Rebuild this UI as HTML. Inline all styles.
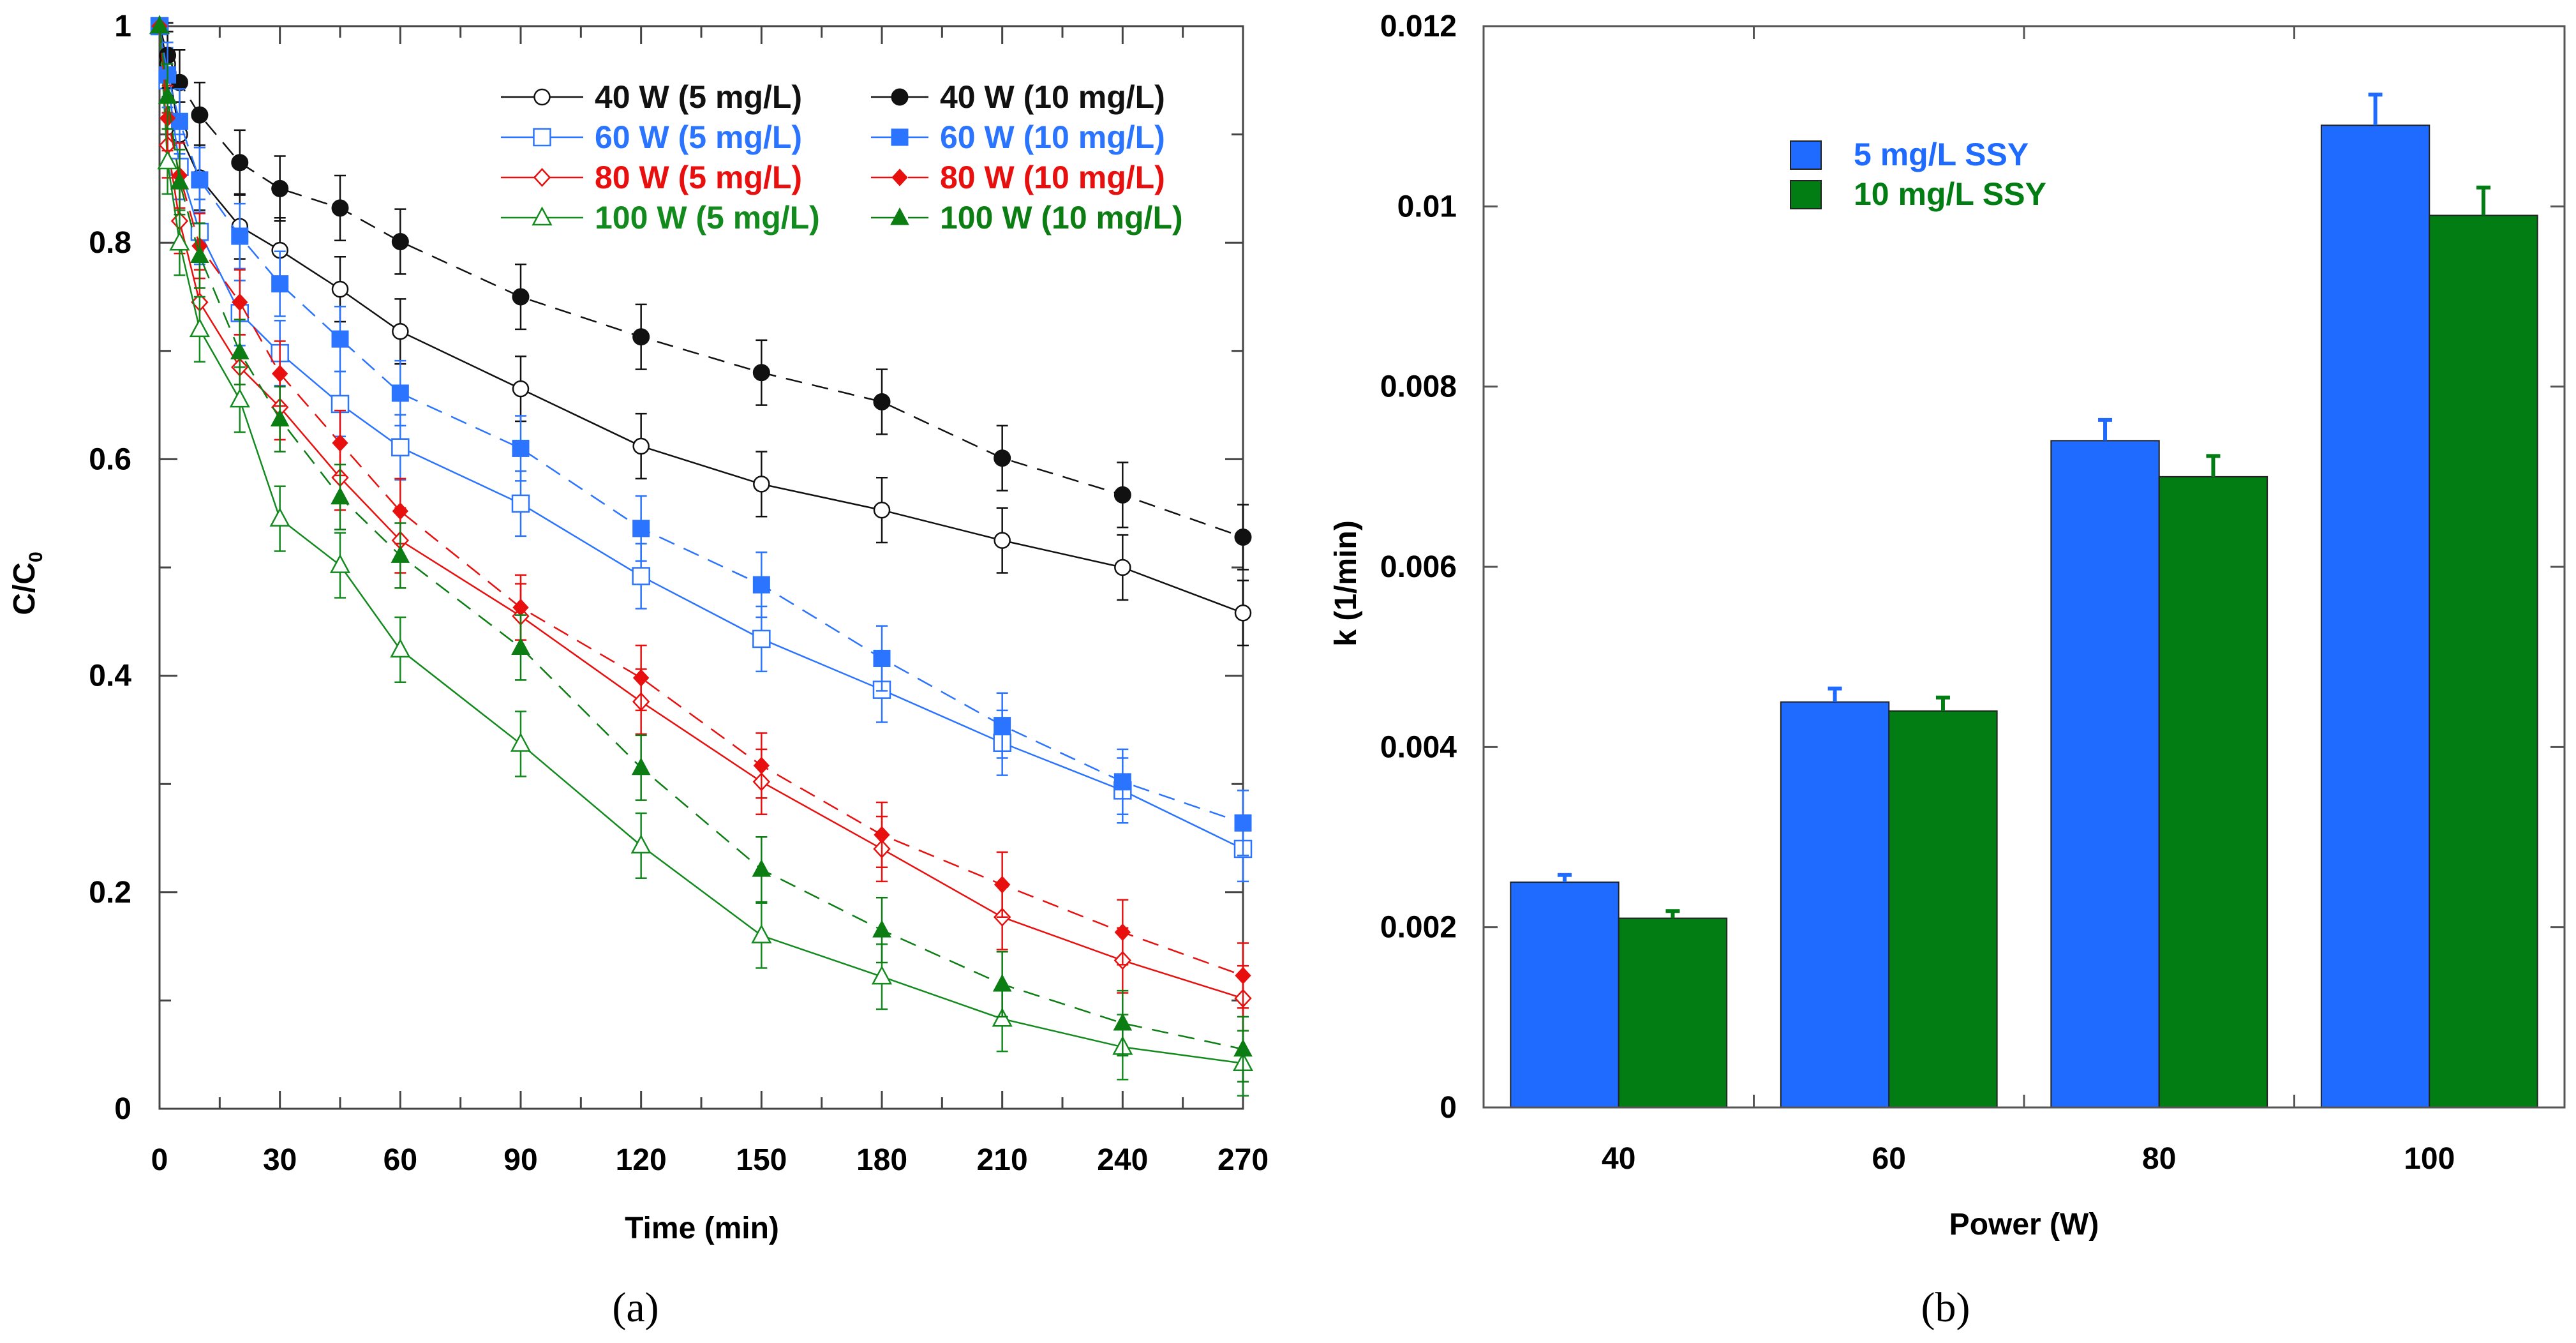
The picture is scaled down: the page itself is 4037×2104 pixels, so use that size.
<!DOCTYPE html>
<html><head><meta charset="utf-8">
<style>
html,body{margin:0;padding:0;background:#fff;}
svg{display:block;font-family:"Liberation Sans",Arial,sans-serif;}
</style></head>
<body>
<svg id="fig" width="4037" height="2104" viewBox="0 0 4037 2104" xmlns="http://www.w3.org/2000/svg">
<g id="chartA"></g>
<g id="chartB"></g>
<text x="996" y="2070" font-family="Liberation Serif,serif" font-size="66" text-anchor="middle">(a)</text>
<text x="3049" y="2070" font-family="Liberation Serif,serif" font-size="66" text-anchor="middle">(b)</text>
</svg>
<script>
const NS="http://www.w3.org/2000/svg";
// ---- Chart A data ----
const times=[0,2,5,10,20,30,45,60,90,120,150,180,210,240,270];
const s40_5=[1,0.965,0.90,0.86,0.815,0.793,0.757,0.718,0.665,0.612,0.577,0.553,0.525,0.50,0.458];
const s40_10=[1,0.973,0.948,0.918,0.874,0.85,0.832,0.801,0.75,0.713,0.68,0.653,0.601,0.567,0.528];
const s60_5=[1,0.95,0.87,0.81,0.735,0.698,0.651,0.611,0.559,0.492,0.434,0.387,0.338,0.294,0.24];
const s60_10=[1,0.955,0.912,0.858,0.806,0.762,0.711,0.661,0.61,0.536,0.484,0.416,0.354,0.302,0.264];
const s80_5=[1,0.89,0.82,0.745,0.685,0.648,0.583,0.525,0.455,0.376,0.302,0.24,0.177,0.137,0.102];
const s80_10=[1,0.915,0.862,0.797,0.745,0.679,0.615,0.552,0.463,0.398,0.317,0.253,0.207,0.163,0.123];
const s100_5=[1,0.875,0.80,0.72,0.655,0.545,0.502,0.424,0.337,0.243,0.16,0.122,0.083,0.057,0.042];
const s100_10=[1,0.935,0.856,0.788,0.699,0.637,0.565,0.511,0.426,0.315,0.221,0.165,0.115,0.079,0.055];
const errA=0.03;
const xTicksA=[0,30,60,90,120,150,180,210,240,270];
const yTicksA=[0,0.2,0.4,0.6,0.8,1];
const yTickLabelsA=["0","0.2","0.4","0.6","0.8","1"];
// ---- Chart B data ----
const powers=["40","60","80","100"];
const k5=[0.0025,0.0045,0.0074,0.0109];
const k10=[0.0021,0.0044,0.0070,0.0099];
const k5err=[0.00008,0.00015,0.00023,0.00034];
const k10err=[0.00008,0.00015,0.00023,0.00031];
const yTicksB=[0,0.002,0.004,0.006,0.008,0.01,0.012];
const yTickLabelsB=["0","0.002","0.004","0.006","0.008","0.01","0.012"];

function el(parent,tag,attrs,text){const e=document.createElementNS(NS,tag);for(const k in attrs)e.setAttribute(k,attrs[k]);if(text!==undefined)e.textContent=text;parent.appendChild(e);return e;}

// ===== Chart A =====
const A=document.getElementById('chartA');
const aL=250,aR=1948,aT=41,aB=1737;
const xA=t=>aL+(t/270)*(aR-aL);
const yA=v=>aB-v*(aB-aT);
let r=el(A,'rect',{x:aL,y:aT,width:aR-aL,height:aB-aT,fill:'none',stroke:'#444','stroke-width':3});


for(let t=0;t<=270;t+=15){
  const L=t%30===0?28:18;
  el(A,'line',{x1:xA(t),y1:aB,x2:xA(t),y2:aB-L,stroke:'#444','stroke-width':3});
  el(A,'line',{x1:xA(t),y1:aT,x2:xA(t),y2:aT+L,stroke:'#444','stroke-width':3});
}
for(let v=0;v<=1.0001;v+=0.1){
  const L=Math.round(v*10)%2===0?28:18;
  el(A,'line',{x1:aL,y1:yA(v),x2:aL+L,y2:yA(v),stroke:'#444','stroke-width':3});
  el(A,'line',{x1:aR,y1:yA(v),x2:aR-L,y2:yA(v),stroke:'#444','stroke-width':3});
}
xTicksA.forEach(t=>{const e=el(A,'text',{x:xA(t),y:1833,'font-size':48,'font-weight':'bold','text-anchor':'middle'},String(t));
 });
yTicksA.forEach((v,i)=>{const e=el(A,'text',{x:206,y:yA(v)+16,'font-size':48,'font-weight':'bold','text-anchor':'end'},yTickLabelsA[i]);
 });
let xt=el(A,'text',{x:1100,y:1940,'font-size':48,'font-weight':'bold','text-anchor':'middle'},'Time (min)');

let yt=el(A,'text',{x:0,y:0,'font-size':48,'font-weight':'bold','text-anchor':'middle',transform:'translate(54,914) rotate(-90)'});

yt.innerHTML='C/C<tspan font-size="30" dy="12">0</tspan>';

const seriesA=[
 {d:s40_5,c:'#111',dash:null,m:'circle',f:false,n:'40 W (5 mg/L)'},
 {d:s60_5,c:'#2b74ff',dash:null,m:'square',f:false,n:'60 W (5 mg/L)'},
 {d:s80_5,c:'#e8100e',dash:null,m:'diamond',f:false,n:'80 W (5 mg/L)'},
 {d:s100_5,c:'#138a1e',dash:null,m:'triangle',f:false,n:'100 W (5 mg/L)'},
 {d:s40_10,c:'#111',dash:'26,16',m:'circle',f:true,n:'40 W (10 mg/L)'},
 {d:s60_10,c:'#2b74ff',dash:'26,16',m:'square',f:true,n:'60 W (10 mg/L)'},
 {d:s80_10,c:'#e8100e',dash:'26,16',m:'diamond',f:true,n:'80 W (10 mg/L)'},
 {d:s100_10,c:'#0b7d13',dash:'26,16',m:'triangle',f:true,n:'100 W (10 mg/L)'}
];
function marker(g,type,x,y,c,filled){
  const fill=filled?c:'#fff';const sw=filled?1:2.5;let e;
  if(type==='circle')e=el(g,'circle',{cx:x,cy:y,r:filled?13:12,fill:fill,stroke:c,'stroke-width':sw});
  else if(type==='square')e=el(g,'rect',{x:x-13,y:y-13,width:26,height:26,fill:fill,stroke:c,'stroke-width':sw});
  else if(type==='diamond')e=el(g,'polygon',{points:`${x},${y-13} ${x+12},${y} ${x},${y+13} ${x-12},${y}`,fill:fill,stroke:c,'stroke-width':sw});
  else e=el(g,'polygon',{points:`${x},${y-15} ${x+14},${y+11} ${x-14},${y+11}`,fill:fill,stroke:c,'stroke-width':sw});
  return e;
}
seriesA.forEach((s,si)=>{
  const g=el(A,'g',{});
  
  
  const pts=times.map((t,i)=>xA(t)+','+yA(s.d[i])).join(' ');
  const ln=el(g,'polyline',{points:pts,fill:'none',stroke:s.c,'stroke-width':2.5});
  if(s.dash)ln.setAttribute('stroke-dasharray',s.dash);
  times.forEach((t,i)=>{
    if(i===0)return;
    const x=xA(t),y1=yA(s.d[i]+errA),y2=yA(Math.max(0,s.d[i]-errA));
    el(g,'line',{x1:x,y1:y1,x2:x,y2:y2,stroke:s.c,'stroke-width':2.5});
    el(g,'line',{x1:x-9,y1:y1,x2:x+9,y2:y1,stroke:s.c,'stroke-width':2.5});
    el(g,'line',{x1:x-9,y1:y2,x2:x+9,y2:y2,stroke:s.c,'stroke-width':2.5});
  });
  times.forEach((t,i)=>{const m=marker(g,s.m,xA(t),yA(s.d[i]),s.c,s.f);
    });
  const col=si<4?0:1,row=si%4;
  const lx1=col?1365:785,lx2=col?1455:914,tx=col?1473:932,ly=152+row*63;
  const lg=el(A,'g',{});
  
  
  const ll=el(lg,'line',{x1:lx1,y1:ly,x2:lx2,y2:ly,stroke:s.c,'stroke-width':2.5});
  if(s.dash)ll.setAttribute('stroke-dasharray','40,18');
  marker(lg,s.m,(lx1+lx2)/2,ly,s.c,s.f);
  el(lg,'text',{x:tx,y:ly+17,'font-size':50,'font-weight':'bold',fill:s.c},s.n);
});

// ===== Chart B =====
const B=document.getElementById('chartB');
const bL=2325,bR=4019,bT=41,bB=1735;
const yB=v=>bB-(v/0.012)*(bB-bT);
const gw=(bR-bL)/powers.length;
const bw=gw*0.4;
powers.forEach((p,i)=>{
  const cx=bL+gw*(i+0.5);
  const v5=k5[i],v10=k10[i];
  let b=el(B,'rect',{x:cx-bw,y:yB(v5),width:bw,height:bB-yB(v5),fill:'#1f6bff',stroke:'#222','stroke-width':2});
  
  b=el(B,'rect',{x:cx,y:yB(v10),width:bw,height:bB-yB(v10),fill:'#027d14',stroke:'#222','stroke-width':2});
  
  [[cx-bw/2,v5,k5err[i],'#1f6bff'],[cx+bw/2,v10,k10err[i],'#027d14']].forEach(a=>{
    const x=a[0],yt2=yB(a[1]+a[2]);
    const e=el(B,'line',{x1:x,y1:yB(a[1]),x2:x,y2:yt2,stroke:a[3],'stroke-width':6});
    
    el(B,'line',{x1:x-11,y1:yt2,x2:x+11,y2:yt2,stroke:a[3],'stroke-width':6});
  });
  const t=el(B,'text',{x:cx,y:1831,'font-size':48,'font-weight':'bold','text-anchor':'middle'},p);
  
});
r=el(B,'rect',{x:bL,y:bT,width:bR-bL,height:bB-bT,fill:'none',stroke:'#555','stroke-width':3});

for(let i=1;i<powers.length;i++){const x=bL+gw*i;
  el(B,'line',{x1:x,y1:bB,x2:x,y2:bB-20,stroke:'#555','stroke-width':3});
  el(B,'line',{x1:x,y1:bT,x2:x,y2:bT+20,stroke:'#555','stroke-width':3});}
yTicksB.forEach((v,i)=>{
  el(B,'line',{x1:bL,y1:yB(v),x2:bL+22,y2:yB(v),stroke:'#555','stroke-width':3});
  el(B,'line',{x1:bR,y1:yB(v),x2:bR-22,y2:yB(v),stroke:'#555','stroke-width':3});
  const t=el(B,'text',{x:2283,y:yB(v)+16,'font-size':48,'font-weight':'bold','text-anchor':'end'},yTickLabelsB[i]);
  
});
xt=el(B,'text',{x:3172,y:1934,'font-size':48,'font-weight':'bold','text-anchor':'middle'},'Power (W)');

yt=el(B,'text',{x:0,y:0,'font-size':48,'font-weight':'bold','text-anchor':'middle',transform:'translate(2125,914) rotate(-90)'},'k (1/min)');

[['5 mg/L SSY','#1f6bff',221],['10 mg/L SSY','#027d14',283]].forEach(a=>{
  const g=el(B,'g',{});
  
  
  el(g,'rect',{x:2806,y:a[2],width:48,height:44,fill:a[1],stroke:'#222','stroke-width':2});
  el(g,'text',{x:2905,y:a[2]+38,'font-size':50,'font-weight':'bold',fill:a[1]},a[0]);
});
</script>
</body></html>
